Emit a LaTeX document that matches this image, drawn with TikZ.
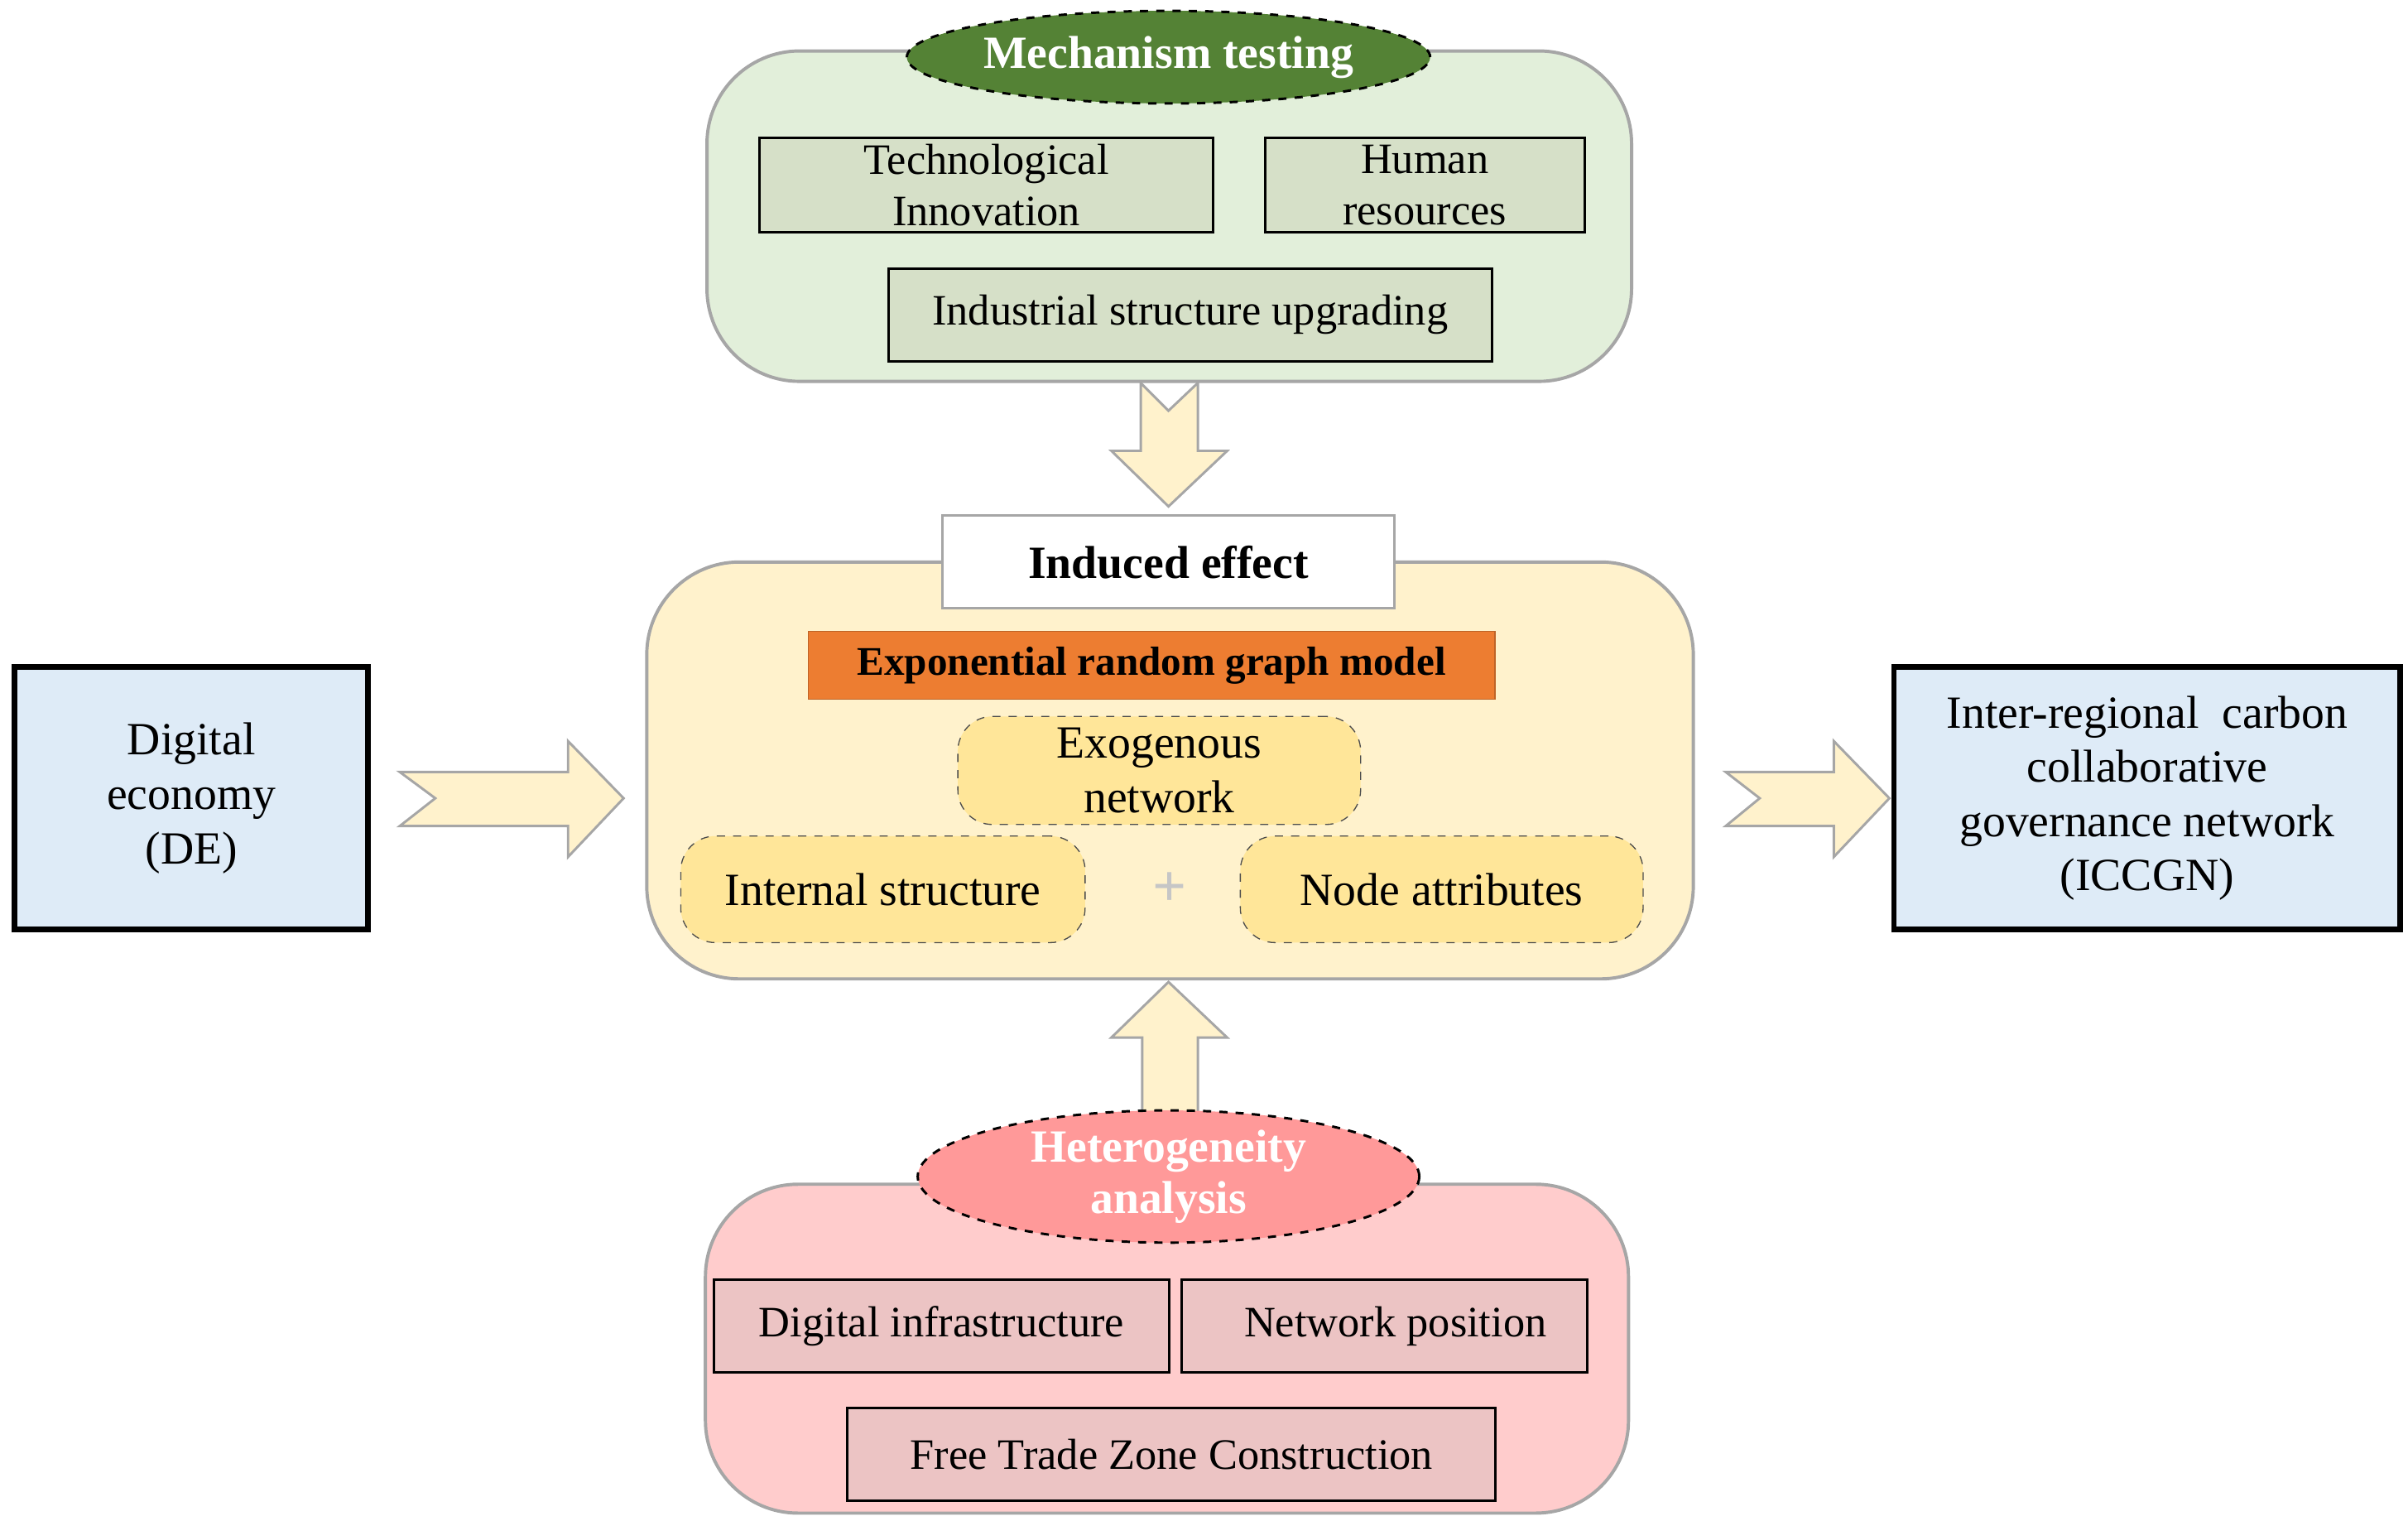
\documentclass[tikz,border=0pt]{standalone}
\usepackage{fontspec}
\setmainfont{Liberation Serif}
\usetikzlibrary{shapes.geometric}
\definecolor{grnpanel}{HTML}{E2EFDA}
\definecolor{grnbox}{HTML}{D6E0C8}
\definecolor{grndark}{HTML}{548235}
\definecolor{ylwpanel}{HTML}{FFF2CC}
\definecolor{ylwbox}{HTML}{FFE699}
\definecolor{orng}{HTML}{ED7D31}
\definecolor{bluebox}{HTML}{DEEBF7}
\definecolor{pnkpanel}{HTML}{FFCCCC}
\definecolor{pnkbox}{HTML}{ECC4C4}
\definecolor{pnkdark}{HTML}{FF9999}
\tikzset{
  panel/.style={draw=gray!70, line width=1.2pt, rounded corners=1.2cm},
  item/.style={draw=black, line width=0.9pt, align=center, inner sep=0pt, font=\fontsize{16}{19}\selectfont},
  sub/.style={draw=black!70, dashed, fill=ylwbox, rounded corners=0.45cm, align=center, inner sep=0pt, font=\fontsize{17}{20}\selectfont},
  oval/.style={ellipse, draw=black, dashed, line width=0.9pt, text=white, font=\bfseries\fontsize{17}{19}\selectfont, align=center, inner sep=0pt},
  side/.style={draw=black, line width=2pt, fill=bluebox, align=center, inner sep=0pt, font=\fontsize{17}{20}\selectfont},
  bigarrow/.style={draw=gray!70, line width=0.9pt, fill=ylwpanel, line join=miter}
}
\begin{document}
\begin{tikzpicture}[x=0.02cm,y=-0.02cm]
\useasboundingbox (0,0) rectangle (1560,985);
% mechanism panel
\draw[panel, fill=grnpanel] (458,33) rectangle (1057,247);
\node[oval, fill=grndark, minimum width=6.5cm, minimum height=1.2cm] (mech) at (757,37) {Mechanism testing};
\node[item, fill=grnbox, minimum width=5.88cm, minimum height=1.22cm] (tech) at (639,120) {Technological\\Innovation};
\node[item, fill=grnbox, minimum width=4.14cm, minimum height=1.22cm] (human) at (923,120) {Human\\resources};
\node[item, fill=grnbox, minimum width=7.82cm, minimum height=1.2cm] (indus) at (771,204) {Industrial structure upgrading};
% block arrows
\draw[bigarrow] (739,248) -- (757,266) -- (776,248) -- (776,292) -- (795,292) -- (757,328) -- (720,292) -- (739,292) -- cycle;
\draw[bigarrow] (259,500) -- (368,500) -- (368,480) -- (404,517) -- (368,555) -- (368,535) -- (259,535) -- (282,517) -- cycle;
\draw[bigarrow] (1118,500) -- (1188,500) -- (1188,480) -- (1224,517) -- (1188,555) -- (1188,535) -- (1118,535) -- (1140,517) -- cycle;
\draw[bigarrow] (740,740) -- (740,672) -- (720,672) -- (757,636) -- (795,672) -- (776,672) -- (776,740) -- cycle;
% central panel
\draw[panel, fill=ylwpanel] (419,364) rectangle (1097,634);
\node[draw=gray!70, fill=white, line width=0.9pt, minimum width=5.86cm, minimum height=1.2cm, font=\bfseries\fontsize{17}{20}\selectfont] (induced) at (757,364) {Induced effect};
\node[draw=orng!80!black, fill=orng, minimum width=8.9cm, minimum height=0.88cm, inner sep=0pt, font=\bfseries\fontsize{15}{18}\selectfont] (ergm) at (746,431) {Exponential random graph model};
\node[sub, minimum width=5.22cm, minimum height=1.4cm] (exo) at (751,499) {Exogenous\\network};
\node[sub, minimum width=5.24cm, minimum height=1.38cm] (internal) at (572,576) {Internal structure};
\node[sub, minimum width=5.22cm, minimum height=1.38cm] (nodeattr) at (934,576) {Node attributes};
\node[text=gray!45, font=\bfseries\fontsize{22}{22}\selectfont] (plus) at (758,576) {+};
% sides
\node[side, minimum width=4.58cm, minimum height=3.4cm] (de) at (124,517) {Digital\\economy\\(DE)};
\node[side, minimum width=6.56cm, minimum height=3.4cm] (iccgn) at (1391,517) {Inter-regional\ \ carbon\\collaborative\\governance network\\(ICCGN)};
% heterogeneity panel
\draw[panel, fill=pnkpanel] (457,767) rectangle (1055,980);
\node[oval, fill=pnkdark, minimum width=6.5cm, minimum height=1.48cm] (hetero) at (757,762) {Heterogeneity\\analysis};
\node[item, fill=pnkbox, minimum width=5.9cm, minimum height=1.2cm] (infra) at (610,859) {Digital infrastructure};
\node[item, fill=pnkbox, minimum width=5.26cm, minimum height=1.2cm] (netpos) at (897,859) {\ \ Network position};
\node[item, fill=pnkbox, minimum width=8.4cm, minimum height=1.2cm] (ftz) at (759,942) {Free Trade Zone Construction};
\end{tikzpicture}
\end{document}
